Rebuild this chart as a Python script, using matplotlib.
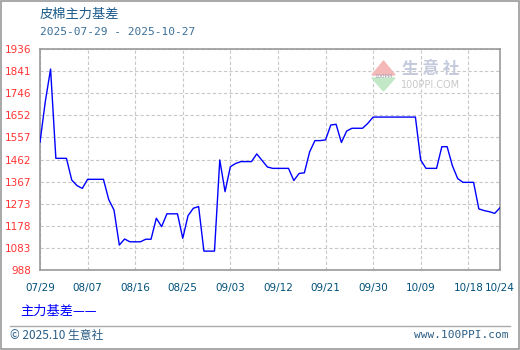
import matplotlib
matplotlib.use('Agg')
import matplotlib.pyplot as mp
from matplotlib.patches import Polygon, Rectangle
import pandas as pd

mp.rcParams['font.family'] = ['Noto Sans CJK SC', 'DejaVu Sans']

# daily values, 2025-07-29 .. 2025-10-24
startDate = '2025-07-29'
basis = [1536, 1710, 1850, 1467, 1467, 1467, 1374, 1350, 1338, 1377,
         1377, 1377, 1377, 1290, 1245, 1095, 1121, 1109, 1109, 1109,
         1120, 1120, 1210, 1174, 1229, 1229, 1229, 1124, 1221, 1253,
         1260, 1069, 1069, 1069, 1460, 1324, 1431, 1445, 1453, 1453,
         1453, 1486, 1458, 1430, 1424, 1424, 1424, 1424, 1372, 1402,
         1405, 1495, 1543, 1543, 1546, 1610, 1613, 1535, 1584, 1596,
         1596, 1596, 1617, 1644, 1644, 1644, 1644, 1644, 1644, 1644,
         1644, 1644, 1460, 1424, 1424, 1424, 1517, 1517, 1435, 1380,
         1364, 1364, 1364, 1250, 1243, 1238, 1231, 1255]
dates = pd.date_range(startDate, periods=len(basis), freq='D')

yTicks = [988, 1083, 1178, 1273, 1367, 1462, 1557, 1652, 1746, 1841, 1936]
xTickDates = ['2025-07-29', '2025-08-07', '2025-08-16', '2025-08-25', '2025-09-03',
              '2025-09-12', '2025-09-21', '2025-09-30', '2025-10-09', '2025-10-18', '2025-10-24']
xTickLabels = ['07/29', '08/07', '08/16', '08/25', '09/03', '09/12',
               '09/21', '09/30', '10/09', '10/18', '10/24']

W, H = 520, 350
fig = mp.figure(figsize=(W / 100, H / 100), dpi=100)

def fx(px):
    return px / W

def fy(py):
    return 1 - py / H

ax = fig.add_axes([fx(40), fy(270), fx(460), 221 / H])

ax.plot(dates, basis, c='#0000ff', lw=1.0, zorder=3)

ax.set_ylim(yTicks[0], yTicks[-1])
ax.set_xlim(dates[0], dates[-1])
ax.set_yticks(yTicks)
ax.set_yticklabels([str(v) for v in yTicks], color='#ff3333', fontsize=7.5, family='DejaVu Sans')
ax.set_xticks(pd.to_datetime(xTickDates))
ax.set_xticklabels(xTickLabels, color='#00507a', fontsize=7.5, family='DejaVu Sans')
ax.tick_params(length=0, pad=6)
ax.tick_params(axis='x', pad=9)
ax.grid(True, ls=(0, (3, 2)), color='#c8c8c8', lw=0.8)
for s in ax.spines.values():
    s.set_color('#999999')
    s.set_linewidth(1.2)

# watermark logo (transparent overlay)
logo = fig.add_axes([0, 0, 1, 1], zorder=5)
logo.set_xlim(0, W)
logo.set_ylim(H, 0)
logo.patch.set_alpha(0)
logo.axis('off')
logo.add_patch(Polygon([[372, 75], [395, 75], [383.5, 61]], closed=True, color='#f4b8b8'))
logo.add_patch(Polygon([[372, 78], [395, 78], [383.5, 91]], closed=True, color='#c2e8c8'))
logo.text(383.5, 76.5, '100PPI', fontsize=4, color='#a0a0b0', ha='center', va='center', family='DejaVu Sans')
logo.text(402, 69, '生 意 社', fontsize=12, color='#c4cadc', ha='left', va='center', weight='bold')
logo.text(401, 85, '100PPI.COM', fontsize=7, color='#c8c8c8', ha='left', va='center', family='DejaVu Sans')

# texts
fig.text(fx(40), fy(14), '皮棉主力基差', fontsize=9.5, color='#1a5a8a', va='center', ha='left')
fig.text(fx(40), fy(32), '2025-07-29 - 2025-10-27', fontsize=8, color='#3a6f99',
         va='center', ha='left', family='DejaVu Sans Mono')
fig.text(fx(20), fy(311), '主力基差——', fontsize=9.5, color='#0000ff', va='center', ha='left')
fig.text(fx(10), fy(335), '© 2025.10 生意社', fontsize=8.5, color='#2a5d85', va='center', ha='left')
fig.text(fx(509), fy(335), 'www.100PPI.com', fontsize=8, color='#2a5d85', va='center', ha='right',
         family='DejaVu Sans Mono')

# footer rule and outer frame
fig.add_artist(mp.Line2D([fx(10), fx(510)], [fy(326), fy(326)], color='#aaaaaa', lw=1))
fig.add_artist(Rectangle((0.001, 0.002), 0.997, 0.995, transform=fig.transFigure,
                         fill=False, edgecolor='#999999', lw=1.2))

mp.savefig('out.png', dpi=100)
mp.close()
